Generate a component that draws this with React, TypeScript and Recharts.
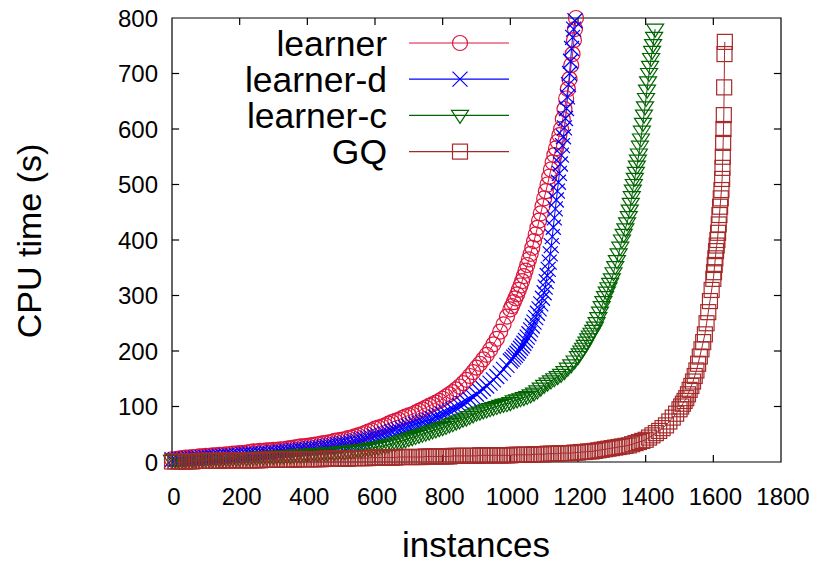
import React from 'react';
import { LineChart, Line, XAxis, YAxis, Legend, ReferenceArea, ReferenceLine } from 'recharts';

// instances vs CPU time (s)
const learner: [number, number][] = [
  [0, 5], [10, 5], [20, 6], [30, 7], [40, 8], [50, 8], [60, 9], [70, 9], [80, 10], [90, 10],
  [100, 11], [110, 11], [120, 12], [130, 12], [140, 13], [150, 13], [160, 14], [170, 14], [180, 15], [190, 15],
  [200, 16], [210, 16], [220, 17], [230, 18], [240, 19], [250, 19], [260, 20], [270, 20], [280, 21], [290, 21],
  [300, 22], [310, 22], [320, 23], [330, 23], [340, 24], [350, 25], [360, 26], [370, 27], [380, 28], [390, 28],
  [400, 29], [410, 30], [420, 31], [430, 32], [440, 33], [450, 34], [460, 35], [470, 36], [480, 38], [490, 39],
  [500, 40], [510, 41], [520, 43], [530, 44], [540, 46], [550, 48], [560, 50], [570, 52], [580, 55], [590, 57],
  [600, 60], [610, 62], [620, 64], [630, 66], [640, 69], [650, 72], [660, 74], [670, 76], [680, 79], [690, 82],
  [700, 84], [710, 86], [720, 89], [730, 92], [740, 95], [750, 98], [760, 101], [770, 104], [780, 107], [790, 110],
  [800, 114], [810, 118], [820, 122], [830, 126], [840, 131], [850, 136], [860, 142], [870, 148], [880, 155], [890, 162],
  [900, 170], [910, 177], [920, 185], [930, 193], [940, 202], [950, 212], [960, 222], [970, 235], [980, 248], [990, 262],
  [1000, 275], [1005, 281], [1010, 288], [1015, 295], [1020, 302], [1025, 310], [1030, 318], [1035, 326], [1040, 335], [1045, 345],
  [1050, 355], [1055, 365], [1060, 375], [1065, 386], [1070, 398], [1075, 410], [1080, 422], [1085, 435], [1090, 448], [1095, 461],
  [1100, 475], [1105, 488], [1110, 500], [1115, 514], [1120, 527], [1125, 540], [1130, 553], [1135, 565], [1140, 577], [1145, 589],
  [1150, 600], [1155, 618], [1160, 636], [1165, 655], [1170, 672], [1175, 690], [1180, 715], [1184, 735], [1188, 760], [1191, 780],
  [1194, 800],
];

const learnerD: [number, number][] = [
  [0, 4], [10, 4], [20, 5], [30, 5], [40, 5], [50, 6], [60, 6], [70, 7], [80, 7], [90, 8],
  [100, 8], [110, 8], [120, 9], [130, 9], [140, 10], [150, 10], [160, 11], [170, 11], [180, 11], [190, 12],
  [200, 12], [210, 13], [220, 13], [230, 14], [240, 14], [250, 14], [260, 15], [270, 15], [280, 16], [290, 16],
  [300, 17], [310, 17], [320, 18], [330, 18], [340, 19], [350, 20], [360, 21], [370, 21], [380, 22], [390, 22],
  [400, 23], [410, 24], [420, 25], [430, 25], [440, 26], [450, 27], [460, 28], [470, 29], [480, 30], [490, 31],
  [500, 32], [510, 33], [520, 34], [530, 35], [540, 37], [550, 38], [560, 40], [570, 41], [580, 43], [590, 44],
  [600, 46], [610, 47], [620, 49], [630, 51], [640, 53], [650, 55], [660, 57], [670, 58], [680, 60], [690, 62],
  [700, 64], [710, 66], [720, 68], [730, 70], [740, 72], [750, 74], [760, 76], [770, 78], [780, 81], [790, 83],
  [800, 86], [810, 89], [820, 92], [830, 95], [840, 98], [850, 102], [860, 105], [870, 109], [880, 113], [890, 117],
  [900, 122], [910, 127], [920, 132], [930, 137], [940, 142], [950, 148], [960, 154], [970, 160], [980, 167], [990, 174],
  [1000, 182], [1005, 185], [1010, 189], [1015, 192], [1020, 196], [1025, 200], [1030, 205], [1035, 209], [1040, 214], [1045, 219],
  [1050, 225], [1055, 231], [1060, 238], [1065, 245], [1070, 252], [1075, 260], [1080, 268], [1085, 276], [1090, 285], [1095, 295],
  [1100, 305], [1103, 315], [1106, 325], [1109, 336], [1112, 347], [1115, 360], [1118, 375], [1121, 390], [1124, 406], [1127, 423],
  [1130, 440], [1133, 456], [1136, 472], [1139, 488], [1142, 504], [1145, 520], [1148, 537], [1151, 553], [1154, 570], [1157, 586],
  [1160, 602], [1163, 619], [1166, 637], [1169, 658], [1172, 680], [1175, 700], [1178, 722], [1181, 745], [1184, 765], [1187, 780],
  [1191, 795],
];

const learnerC: [number, number][] = [
  [0, 3], [10, 3], [20, 3], [30, 3], [40, 4], [50, 4], [60, 4], [70, 4], [80, 5], [90, 5],
  [100, 5], [110, 5], [120, 5], [130, 6], [140, 6], [150, 6], [160, 6], [170, 7], [180, 7], [190, 7],
  [200, 7], [210, 8], [220, 8], [230, 8], [240, 8], [250, 9], [260, 9], [270, 9], [280, 9], [290, 10],
  [300, 10], [310, 10], [320, 11], [330, 11], [340, 11], [350, 12], [360, 12], [370, 13], [380, 13], [390, 13],
  [400, 14], [410, 14], [420, 15], [430, 15], [440, 15], [450, 16], [460, 16], [470, 17], [480, 17], [490, 18],
  [500, 18], [510, 19], [520, 19], [530, 20], [540, 21], [550, 21], [560, 22], [570, 23], [580, 24], [590, 25],
  [600, 26], [610, 27], [620, 28], [630, 29], [640, 31], [650, 32], [660, 34], [670, 36], [680, 38], [690, 40],
  [700, 42], [710, 44], [720, 46], [730, 48], [740, 50], [750, 52], [760, 54], [770, 56], [780, 58], [790, 60],
  [800, 62], [810, 64], [820, 67], [830, 69], [840, 72], [850, 74], [860, 77], [870, 79], [880, 82], [890, 85],
  [900, 88], [910, 90], [920, 92], [930, 94], [940, 96], [950, 98], [960, 100], [970, 102], [980, 104], [990, 105],
  [1000, 107], [1010, 110], [1020, 112], [1030, 114], [1040, 116], [1050, 118], [1060, 121], [1070, 124], [1080, 128], [1090, 133],
  [1100, 138], [1110, 142], [1120, 146], [1130, 150], [1140, 154], [1150, 158], [1160, 163], [1170, 169], [1180, 175], [1190, 182],
  [1200, 190], [1205, 195], [1210, 200], [1215, 205], [1220, 210], [1225, 216], [1230, 222], [1235, 227], [1240, 232], [1245, 237],
  [1250, 243], [1255, 251], [1260, 260], [1265, 270], [1270, 280], [1275, 289], [1280, 298], [1285, 306], [1290, 314], [1295, 322],
  [1300, 330], [1305, 341], [1310, 352], [1315, 363], [1320, 375], [1325, 387], [1330, 400], [1335, 410], [1340, 420], [1345, 431],
  [1350, 442], [1353, 454], [1356, 466], [1359, 478], [1362, 490], [1365, 500], [1368, 511], [1371, 522], [1374, 533], [1377, 544],
  [1380, 555], [1383, 569], [1386, 582], [1389, 596], [1392, 610], [1395, 625], [1398, 640], [1401, 655], [1404, 670], [1407, 685],
  [1410, 700], [1413, 713], [1416, 727], [1419, 740], [1422, 752], [1425, 765], [1428, 780],
];

const gq: [number, number][] = [
  [0, 1], [10, 1], [20, 1], [30, 1], [40, 1], [50, 1], [60, 1], [70, 2], [80, 2], [90, 2],
  [100, 2], [110, 2], [120, 2], [130, 2], [140, 2], [150, 3], [160, 3], [170, 3], [180, 3], [190, 3],
  [200, 3], [210, 3], [220, 3], [230, 3], [240, 3], [250, 3], [260, 3], [270, 4], [280, 4], [290, 4],
  [300, 4], [310, 4], [320, 4], [330, 4], [340, 4], [350, 4], [360, 4], [370, 5], [380, 5], [390, 5],
  [400, 5], [410, 5], [420, 5], [430, 5], [440, 5], [450, 6], [460, 6], [470, 6], [480, 6], [490, 6],
  [500, 6], [510, 6], [520, 6], [530, 7], [540, 7], [550, 7], [560, 7], [570, 7], [580, 7], [590, 8],
  [600, 8], [610, 8], [620, 8], [630, 8], [640, 8], [650, 8], [660, 8], [670, 9], [680, 9], [690, 9],
  [700, 9], [710, 9], [720, 9], [730, 9], [740, 9], [750, 10], [760, 10], [770, 10], [780, 10], [790, 10],
  [800, 10], [810, 10], [820, 10], [830, 11], [840, 11], [850, 11], [860, 11], [870, 11], [880, 11], [890, 11],
  [900, 11], [910, 12], [920, 12], [930, 12], [940, 12], [950, 12], [960, 12], [970, 12], [980, 12], [990, 12],
  [1000, 12], [1010, 13], [1020, 13], [1030, 13], [1040, 13], [1050, 13], [1060, 13], [1070, 14], [1080, 14], [1090, 14],
  [1100, 14], [1110, 15], [1120, 15], [1130, 15], [1140, 15], [1150, 16], [1160, 16], [1170, 16], [1180, 16], [1190, 17],
  [1200, 17], [1210, 18], [1220, 18], [1230, 19], [1240, 19], [1250, 20], [1260, 21], [1270, 22], [1280, 23], [1290, 24],
  [1300, 25], [1310, 26], [1320, 27], [1330, 28], [1340, 29], [1350, 30], [1360, 32], [1370, 34], [1380, 36], [1390, 38],
  [1400, 40], [1410, 44], [1420, 48], [1430, 52], [1440, 56], [1450, 61], [1460, 66], [1470, 73], [1480, 80], [1490, 87],
  [1500, 95], [1505, 100], [1510, 105], [1515, 110], [1520, 115], [1525, 122], [1530, 130], [1535, 137], [1540, 145], [1545, 155],
  [1550, 165], [1555, 177], [1560, 190], [1565, 203], [1570, 216], [1575, 230], [1580, 250], [1585, 270], [1590, 290], [1595, 310],
  [1600, 330], [1602, 342], [1604, 355], [1606, 367], [1608, 380], [1610, 390], [1612, 400], [1614, 413], [1616, 428], [1618, 445],
  [1620, 460], [1622, 475], [1624, 490], [1626, 510], [1627, 530], [1628, 550], [1629, 575], [1630, 600], [1631, 625], [1632, 675],
  [1633, 735], [1634, 757],
];

const xTicks = [0, 200, 400, 600, 800, 1000, 1200, 1400, 1600, 1800];
const yTicks = [0, 100, 200, 300, 400, 500, 600, 700, 800];
const X_MAX = 1800;
const Y_MAX = 800;
// inward tick length (~7px) expressed in data units
const X_TICK = 21;
const Y_TICK = 12.6;

const RED = '#dc143c';
const BLUE = '#0000ff';
const GREEN = '#006400';
const BROWN = '#a52a2a';
const FONT = '"Liberation Sans", Arial, sans-serif';

type Shape = 'circle' | 'cross' | 'triangle' | 'square';

function marker(shape: Shape, color: string, cx: number, cy: number, key?: string) {
  const common = { fill: 'none', stroke: color, strokeWidth: 1.2 };
  if (shape === 'circle') return <circle key={key} cx={cx} cy={cy} r={7.5} {...common} />;
  if (shape === 'cross')
    return <path key={key} d={`M${cx - 7.5},${cy - 7.5}L${cx + 7.5},${cy + 7.5}M${cx - 7.5},${cy + 7.5}L${cx + 7.5},${cy - 7.5}`} {...common} />;
  if (shape === 'triangle')
    return <path key={key} d={`M${cx - 8.5},${cy - 5}L${cx + 8.5},${cy - 5}L${cx},${cy + 8}Z`} {...common} />;
  return <rect key={key} x={cx - 7.5} y={cy - 7.5} width={15} height={15} {...common} />;
}

const dotFor = (shape: Shape, color: string) => (p: any) => {
  if (p.cx == null || p.cy == null) return <g key={`e-${p.index}`} />;
  return marker(shape, color, p.cx, p.cy, `${shape}-${p.index}`);
};

const toRows = (pairs: [number, number][]) => pairs.map(([n, t]) => ({ n, t }));

const series = [
  { name: 'learner', data: learner, color: RED, shape: 'circle' as Shape },
  { name: 'learner-d', data: learnerD, color: BLUE, shape: 'cross' as Shape },
  { name: 'learner-c', data: learnerC, color: GREEN, shape: 'triangle' as Shape },
  { name: 'GQ', data: gq, color: BROWN, shape: 'square' as Shape },
];

// legend plus axis titles, drawn in an overlay svg
const renderLegend = () => (
  <svg width={817} height={567} style={{ position: 'absolute', left: 0, top: 0, overflow: 'visible', pointerEvents: 'none' }}>
    {series.map((s, i) => {
      const y = 43 + i * 36.2;
      return (
        <g key={s.name}>
          <text x={387} y={y} dy="0.36em" textAnchor="end" fontSize={35.5} fontFamily={FONT} fill="#000">
            {s.name}
          </text>
          <line x1={409} x2={509} y1={y} y2={y} stroke={s.color} strokeWidth={1.2} />
          {marker(s.shape, s.color, 460, y)}
        </g>
      );
    })}
    <text x={476} y={557} textAnchor="middle" fontSize={35} fontFamily={FONT} fill="#000">
      instances
    </text>
    <text x={29} y={241} transform="rotate(-90 29 241)" textAnchor="middle" dy="0.36em" fontSize={34} fontFamily={FONT} fill="#000">
      CPU time (s)
    </text>
  </svg>
);

const YTick = (p: any) => (
  <text x={p.x} y={p.y} dy="0.36em" textAnchor="end" fontSize={24} fontFamily={FONT} fill="#000">
    {p.payload.value}
  </text>
);

const XTick = (p: any) => (
  <text x={p.x + 2} y={p.y} dy="0.71em" textAnchor="middle" fontSize={24} fontFamily={FONT} fill="#000">
    {p.payload.value}
  </text>
);

export default function App() {
  return (
    <div style={{ position: 'absolute', left: 0, top: 0, width: 817, height: 567, background: '#fff' }}>
      <LineChart width={817} height={567} margin={{ top: 18, right: 36, bottom: 0, left: 0 }}>
        <XAxis
          dataKey="n"
          type="number"
          domain={[0, X_MAX]}
          ticks={xTicks}
          height={105}
          axisLine={false}
          tickLine={false}
          tickSize={0}
          tickMargin={26}
          tick={XTick}
          allowDuplicatedCategory={false}
        />
        <YAxis
          type="number"
          domain={[0, Y_MAX]}
          ticks={yTicks}
          width={172}
          axisLine={false}
          tickLine={false}
          tickSize={0}
          tickMargin={14}
          tick={YTick}
        />
        <ReferenceArea x1={0} x2={X_MAX} y1={0} y2={Y_MAX} fill="none" stroke="#000" strokeWidth={1.2} />
        {xTicks.slice(1, -1).map((v) => (
          <ReferenceLine key={`xb-${v}`} segment={[{ x: v, y: 0 }, { x: v, y: Y_TICK }]} stroke="#000" strokeWidth={1.2} />
        ))}
        {xTicks.slice(1, -1).map((v) => (
          <ReferenceLine key={`xt-${v}`} segment={[{ x: v, y: Y_MAX }, { x: v, y: Y_MAX - Y_TICK }]} stroke="#000" strokeWidth={1.2} />
        ))}
        {yTicks.slice(1, -1).map((v) => (
          <ReferenceLine key={`yl-${v}`} segment={[{ x: 0, y: v }, { x: X_TICK, y: v }]} stroke="#000" strokeWidth={1.2} />
        ))}
        {yTicks.slice(1, -1).map((v) => (
          <ReferenceLine key={`yr-${v}`} segment={[{ x: X_MAX, y: v }, { x: X_MAX - X_TICK, y: v }]} stroke="#000" strokeWidth={1.2} />
        ))}
        <Legend content={renderLegend} wrapperStyle={{ left: 0, top: 0, width: 0, height: 0 }} />
        {series.map((s) => (
          <Line
            key={s.name}
            name={s.name}
            data={toRows(s.data)}
            dataKey="t"
            stroke={s.color}
            strokeWidth={1}
            dot={dotFor(s.shape, s.color)}
            activeDot={false}
            isAnimationActive={false}
          />
        ))}
      </LineChart>
    </div>
  );
}
